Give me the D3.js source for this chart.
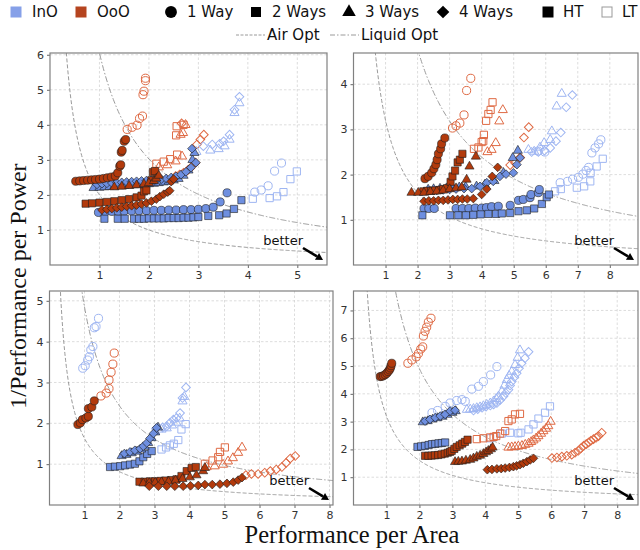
<!DOCTYPE html>
<html>
<head>
<meta charset="utf-8">
<script src="https://cdn.jsdelivr.net/npm/d3@7"></script>
<style>
  body { margin: 0; background: #fff; }
  svg { display: block; }
  .tick text { font-family: "DejaVu Sans", sans-serif; font-size: 11px; fill: #333; }
  .tick line { stroke: #666; }
</style>
</head>
<body>
<svg id="chart" width="640" height="550"></svg>
<script>
// ---- data ----
const panelNames = ['GA', 'DC', 'MMS', 'WSEA'];
const xMax = [5.6, 8.88, 8.1, 8.63];
const yMax = [6.05, 4.69, 5.24, 7.7];
const xTickValues = [[1, 2, 3, 4, 5], [1, 2, 3, 4, 5, 6, 7, 8], [1, 2, 3, 4, 5, 6, 7, 8], [1, 2, 3, 4, 5, 6, 7, 8]];
const yTickValues = [[1, 2, 3, 4, 5, 6], [1, 2, 3, 4], [1, 2, 3, 4, 5], [1, 2, 3, 4, 5, 6, 7]];
const airOptK = [2.0, 3.2, 1.63, 3.2];
const liquidOptK = [6.05, 9.55, 4.85, 9.8];

const cores = ['InO', 'OoO'];
const waysLabels = ['1 Way', '2 Ways', '3 Ways', '4 Ways'];
const threadLabels = ['HT', 'LT'];

// [core, ways, thread, [[perf/area, 1/perf per power], ...]]
const gaSeries = [
  ['OoO', 1, 'LT', [[1.56, 3.87], [1.66, 3.93], [1.76, 3.99], [1.81, 4.18], [1.87, 4.25], [1.88, 4.86], [1.9, 4.96], [1.93, 5.26], [1.93, 5.33]]],
  ['OoO', 2, 'LT', [[2.15, 2.89], [2.3, 2.95], [2.43, 3.02], [2.57, 3.15], [2.55, 3.7], [2.56, 3.96], [2.7, 4.0]]],
  ['OoO', 3, 'LT', [[2.2, 2.79], [2.37, 2.85], [2.54, 2.96], [2.67, 3.1], [2.64, 3.72], [2.69, 3.77], [2.74, 4.0]]],
  ['OoO', 4, 'LT', [[2.54, 2.54], [2.62, 2.58], [2.7, 2.63], [2.78, 2.7], [2.84, 2.77], [2.94, 2.92], [2.97, 3.44], [3.04, 3.58], [3.11, 3.72], [2.66, 4.04]]],
  ['InO', 1, 'LT', [[4.14, 2.08], [4.27, 2.14], [4.41, 2.26], [4.54, 2.68], [4.68, 2.91]]],
  ['InO', 2, 'LT', [[4.1, 1.89], [4.44, 1.91], [4.59, 1.96], [4.72, 2.08], [4.86, 2.45], [4.99, 2.67]]],
  ['InO', 3, 'LT', [[2.96, 3.23], [3.24, 3.27], [3.41, 3.31], [3.53, 3.39], [3.63, 3.58], [3.73, 4.34], [3.83, 4.62]]],
  ['InO', 4, 'LT', [[3.1, 3.39], [3.28, 3.44], [3.43, 3.46], [3.51, 3.53], [3.63, 3.72], [3.73, 4.43], [3.83, 4.8]]],
  ['InO', 1, 'HT', [[0.98, 1.5], [1.12, 1.52], [1.25, 1.53], [1.38, 1.53], [1.5, 1.54], [1.65, 1.54], [1.8, 1.55], [1.95, 1.55], [2.1, 1.56], [2.25, 1.56], [2.4, 1.57], [2.55, 1.57], [2.7, 1.58], [2.85, 1.58], [3.0, 1.59], [3.15, 1.61], [3.3, 1.65], [3.44, 1.8], [3.58, 2.06]]],
  ['InO', 2, 'HT', [[1.1, 1.32], [1.37, 1.32], [1.51, 1.32], [1.7, 1.32], [1.8, 1.32], [1.9, 1.32], [2.0, 1.33], [2.1, 1.33], [2.2, 1.33], [2.3, 1.33], [2.4, 1.34], [2.5, 1.34], [2.6, 1.34], [2.7, 1.35], [2.8, 1.35], [2.9, 1.36], [3.0, 1.37], [3.2, 1.4], [3.42, 1.42], [3.57, 1.47], [3.72, 1.6], [3.87, 1.85]]],
  ['InO', 3, 'HT', [[0.88, 2.2], [1.0, 2.21], [1.1, 2.22], [1.2, 2.23], [1.3, 2.24], [1.4, 2.25], [1.5, 2.26], [1.6, 2.27], [1.7, 2.28], [1.8, 2.29], [1.9, 2.3], [2.0, 2.31], [2.1, 2.32], [2.2, 2.34], [2.3, 2.36], [2.4, 2.38], [2.5, 2.42], [2.6, 2.46], [2.7, 2.55], [2.8, 2.7], [2.88, 3.0], [2.92, 3.2]]],
  ['InO', 4, 'HT', [[0.95, 2.3], [1.05, 2.32], [1.15, 2.33], [1.25, 2.34], [1.35, 2.35], [1.45, 2.36], [1.55, 2.37], [1.65, 2.38], [1.75, 2.39], [1.85, 2.4], [1.95, 2.41], [2.05, 2.42], [2.15, 2.43], [2.25, 2.45], [2.35, 2.47], [2.45, 2.5], [2.55, 2.53], [2.65, 2.58], [2.75, 2.66], [2.85, 2.78], [2.95, 2.92], [2.87, 3.32]]],
  ['OoO', 1, 'HT', [[0.52, 2.39], [0.6, 2.4], [0.68, 2.41], [0.76, 2.42], [0.84, 2.43], [0.92, 2.44], [1.0, 2.45], [1.08, 2.47], [1.16, 2.49], [1.24, 2.51], [1.32, 2.54], [1.37, 2.63], [1.41, 2.82], [1.43, 2.86], [1.44, 3.22], [1.46, 3.27], [1.5, 3.53], [1.53, 3.58]]],
  ['OoO', 2, 'HT', [[0.72, 1.75], [0.85, 1.76], [1.0, 1.78], [1.15, 1.8], [1.3, 1.82], [1.45, 1.85], [1.6, 1.88], [1.75, 1.93], [1.85, 1.98], [1.9, 2.1], [1.95, 2.13], [2.05, 2.42], [2.08, 2.65], [2.12, 2.68]]],
  ['OoO', 3, 'HT', [[1.3, 2.22], [1.45, 2.24], [1.6, 2.26], [1.75, 2.28], [1.9, 2.31], [2.0, 2.34], [2.1, 2.4], [2.15, 2.47], [2.2, 2.55]]],
  ['OoO', 4, 'HT', [[1.05, 1.57], [1.15, 1.59], [1.25, 1.61], [1.35, 1.63], [1.45, 1.65], [1.55, 1.67], [1.65, 1.69], [1.75, 1.71], [1.85, 1.74], [1.95, 1.77], [2.05, 1.82], [2.15, 1.88], [2.22, 1.95], [2.3, 2.02], [2.38, 2.08], [2.42, 2.12], [2.45, 2.38], [2.5, 2.45]]]
];

const dcSeries = [
  ['OoO', 1, 'LT', [[3.09, 3.03], [3.2, 3.08], [3.32, 3.14], [3.45, 3.32], [3.53, 3.86], [3.66, 4.13]]],
  ['OoO', 2, 'LT', [[3.76, 2.57], [3.9, 2.6], [4.0, 2.72], [4.05, 2.74], [4.07, 2.88], [4.14, 3.19], [4.21, 3.34], [4.28, 3.43], [4.34, 3.6]]],
  ['OoO', 3, 'LT', [[4.18, 2.5], [4.31, 2.55], [4.44, 2.7], [4.55, 3.18], [4.66, 3.43]]],
  ['OoO', 4, 'LT', [[4.89, 2.21], [5.04, 2.26], [5.2, 2.38], [5.32, 2.82], [5.47, 3.05]]],
  ['InO', 1, 'LT', [[6.45, 1.82], [6.68, 1.85], [6.84, 1.9], [7.02, 1.94], [7.16, 2.01], [7.26, 2.09], [7.34, 2.16], [7.44, 2.48], [7.54, 2.59], [7.65, 2.68], [7.72, 2.77], [5.76, 2.52], [5.97, 2.5]]],
  ['InO', 2, 'LT', [[6.29, 1.63], [6.47, 1.68], [6.97, 1.71], [7.2, 1.74], [7.39, 1.85], [7.4, 2.04], [7.59, 2.18], [7.78, 2.35]]],
  ['InO', 3, 'LT', [[5.46, 2.55], [5.64, 2.51], [5.82, 2.6], [5.95, 2.7], [6.14, 2.77], [6.19, 2.96], [6.34, 3.51], [6.5, 3.79]]],
  ['InO', 4, 'LT', [[5.56, 2.5], [5.77, 2.5], [5.96, 2.53], [6.14, 2.59], [6.32, 2.74], [6.47, 2.93], [6.64, 3.49], [6.83, 3.76]]],
  ['InO', 1, 'HT', [[2.2, 1.25], [2.35, 1.25], [2.52, 1.25], [3.2, 1.25], [3.4, 1.25], [3.6, 1.25], [3.8, 1.26], [4.0, 1.26], [4.15, 1.27], [4.31, 1.29], [4.52, 1.3], [4.89, 1.32], [5.15, 1.43], [5.3, 1.45], [5.51, 1.49], [5.54, 1.56], [5.77, 1.6], [5.8, 1.67]]],
  ['InO', 2, 'HT', [[2.15, 1.1], [3.01, 1.1], [3.27, 1.1], [3.51, 1.1], [3.74, 1.11], [3.97, 1.12], [4.21, 1.13], [4.45, 1.13], [4.63, 1.14], [4.89, 1.15], [5.15, 1.19], [5.41, 1.21], [5.64, 1.25], [5.88, 1.35], [6.03, 1.5], [6.1, 1.56]]],
  ['InO', 3, 'HT', [[2.33, 1.67], [2.5, 1.68], [2.7, 1.69], [2.9, 1.7], [3.1, 1.71], [3.3, 1.72], [3.5, 1.73], [3.84, 1.74], [4.1, 1.78], [4.4, 1.86], [4.68, 2.04], [4.97, 2.37], [5.13, 2.53]]],
  ['InO', 4, 'HT', [[2.6, 1.65], [2.8, 1.66], [3.0, 1.67], [3.2, 1.68], [3.45, 1.69], [3.69, 1.69], [3.95, 1.74], [4.16, 1.82], [4.36, 1.85], [4.57, 1.96], [4.76, 2.01], [4.99, 2.04], [5.1, 2.22], [5.2, 2.37]]],
  ['OoO', 1, 'HT', [[2.23, 1.91], [2.33, 1.96], [2.44, 2.04], [2.51, 2.13], [2.57, 2.22], [2.61, 2.33], [2.65, 2.46], [2.72, 2.57], [2.75, 2.68], [2.85, 2.81]]],
  ['OoO', 2, 'HT', [[2.18, 1.63], [2.3, 1.64], [2.42, 1.64], [2.55, 1.65], [2.68, 1.66], [2.8, 1.68], [2.92, 1.7], [3.03, 1.84], [3.09, 1.96], [3.17, 2.09], [3.25, 2.27], [3.32, 2.33], [3.4, 2.46]]],
  ['OoO', 3, 'HT', [[1.81, 1.6], [2.02, 1.6], [2.2, 1.6], [2.4, 1.62], [2.6, 1.63], [2.8, 1.65], [3.0, 1.68], [3.2, 1.7], [3.38, 1.72], [3.53, 1.89], [3.62, 2.18], [3.82, 2.4]]],
  ['OoO', 4, 'HT', [[2.2, 1.41], [2.35, 1.42], [2.5, 1.42], [2.65, 1.43], [2.8, 1.43], [2.95, 1.44], [3.1, 1.45], [3.25, 1.45], [3.4, 1.46], [3.55, 1.46], [3.74, 1.47], [4.0, 1.56], [4.16, 1.68], [4.33, 1.96], [4.5, 2.16]]]
];

const mmsSeries = [
  ['InO', 1, 'LT', [[0.95, 3.35], [1.02, 3.41], [1.09, 3.55], [1.14, 3.63], [1.18, 3.8], [1.24, 3.88], [1.28, 4.34], [1.33, 4.37], [1.4, 4.57]]],
  ['OoO', 1, 'LT', [[1.47, 2.67], [1.62, 2.74], [1.7, 2.85], [1.7, 3.06], [1.76, 3.25], [1.81, 3.45], [1.85, 3.72]]],
  ['InO', 2, 'LT', [[3.2, 1.36], [3.33, 1.41], [3.44, 1.46], [3.55, 1.5], [3.68, 1.59], [3.77, 1.85], [3.89, 1.98]]],
  ['InO', 3, 'LT', [[3.02, 1.8], [3.2, 1.85], [3.35, 1.88], [3.5, 1.95], [3.62, 2.02], [3.72, 2.12], [3.8, 2.54], [3.85, 2.65]]],
  ['InO', 4, 'LT', [[3.04, 1.87], [3.23, 1.9], [3.35, 1.93], [3.44, 2.01], [3.54, 2.09], [3.63, 2.13], [3.73, 2.25], [3.8, 2.62], [3.9, 2.88]]],
  ['OoO', 2, 'LT', [[4.44, 1.01], [4.66, 1.09], [4.82, 1.17], [4.87, 1.3], [5.01, 1.41]]],
  ['OoO', 3, 'LT', [[4.49, 0.93], [4.72, 0.95], [4.96, 0.99], [5.1, 1.07], [5.24, 1.15], [5.39, 1.28], [5.5, 1.41]]],
  ['OoO', 4, 'LT', [[5.61, 0.73], [5.77, 0.76], [5.96, 0.76], [6.15, 0.79], [6.31, 0.83], [6.48, 0.87], [6.64, 0.93], [6.76, 1.03], [6.88, 1.14], [7.02, 1.2]]],
  ['OoO', 1, 'HT', [[0.81, 1.97], [0.88, 2.01], [0.94, 2.09], [1.04, 2.13], [1.11, 2.17], [1.11, 2.36], [1.21, 2.4], [1.28, 2.55]]],
  ['InO', 2, 'HT', [[1.73, 0.93], [1.87, 0.94], [2.02, 0.95], [2.16, 0.97], [2.3, 0.99], [2.44, 1.01], [2.57, 1.07], [2.68, 1.17], [2.79, 1.25], [2.92, 1.32]]],
  ['InO', 3, 'HT', [[2.06, 1.2], [2.2, 1.23], [2.35, 1.27], [2.5, 1.31], [2.62, 1.36], [2.72, 1.43], [2.82, 1.52], [2.92, 1.64], [3.02, 1.78], [3.1, 1.9]]],
  ['InO', 4, 'HT', [[2.14, 1.26], [2.3, 1.3], [2.44, 1.34], [2.59, 1.38], [2.68, 1.44], [2.78, 1.52], [2.87, 1.63], [2.97, 1.75], [3.06, 1.89]]],
  ['OoO', 2, 'HT', [[2.57, 0.57], [2.72, 0.57], [2.87, 0.58], [3.02, 0.58], [3.17, 0.59], [3.32, 0.6], [3.47, 0.61], [3.63, 0.63], [3.77, 0.71], [3.92, 0.83], [4.06, 0.91], [4.18, 0.93]]],
  ['OoO', 3, 'HT', [[2.68, 0.53], [2.85, 0.54], [3.02, 0.55], [3.2, 0.56], [3.4, 0.57], [3.6, 0.6], [3.8, 0.64], [4.01, 0.68], [4.2, 0.73], [4.39, 0.83], [4.44, 0.91]]],
  ['OoO', 4, 'HT', [[2.85, 0.46], [3.11, 0.46], [3.35, 0.46], [3.58, 0.46], [3.82, 0.46], [4.03, 0.47], [4.25, 0.48], [4.44, 0.5], [4.65, 0.5], [4.87, 0.51], [5.07, 0.53], [5.25, 0.56], [5.39, 0.61], [5.5, 0.67]]]
];

const wseaSeries = [
  ['OoO', 1, 'LT', [[1.65, 5.1], [1.77, 5.22], [1.9, 5.33], [1.97, 5.45], [2.04, 5.61], [2.1, 5.69], [2.12, 6.08], [2.17, 6.25], [2.22, 6.4], [2.27, 6.58], [2.35, 6.72]]],
  ['InO', 1, 'LT', [[2.38, 3.32], [2.55, 3.4], [2.78, 3.55], [2.93, 3.67], [3.13, 3.76], [3.29, 3.79], [3.39, 3.73], [3.59, 4.17], [3.79, 4.27], [3.94, 4.44], [4.16, 4.68], [4.35, 4.98]]],
  ['InO', 3, 'LT', [[3.44, 3.43], [3.54, 3.44], [3.64, 3.46], [3.74, 3.49], [3.84, 3.52], [3.94, 3.56], [4.04, 3.61], [4.15, 3.66], [4.25, 3.73], [4.33, 3.82], [4.4, 3.91], [4.5, 4.09], [4.58, 4.3], [4.65, 4.5], [4.72, 4.65], [4.8, 4.8], [4.9, 5.04], [4.98, 5.3], [5.05, 5.57]]],
  ['InO', 4, 'LT', [[3.64, 3.4], [3.77, 3.45], [3.9, 3.5], [4.02, 3.54], [4.15, 3.58], [4.25, 3.62], [4.35, 3.67], [4.45, 3.78], [4.55, 3.91], [4.62, 4.03], [4.7, 4.15], [4.75, 4.3], [4.8, 4.44], [4.88, 4.6], [4.95, 4.74], [5.02, 4.92], [5.1, 5.1], [5.2, 5.28], [5.31, 5.51]]],
  ['InO', 2, 'LT', [[4.14, 2.4], [4.5, 2.57], [4.75, 2.6], [5.0, 2.58], [5.07, 2.6], [5.31, 2.72], [5.46, 2.9], [5.61, 3.11], [5.81, 3.32], [5.96, 3.55]]],
  ['OoO', 2, 'LT', [[3.74, 2.37], [3.94, 2.4], [4.14, 2.43], [4.25, 2.45], [4.33, 2.48], [4.45, 2.57], [4.6, 2.66], [4.7, 3.02], [4.8, 3.08], [4.9, 3.26], [5.05, 3.28]]],
  ['OoO', 3, 'LT', [[4.7, 2.07], [4.8, 2.08], [4.9, 2.09], [5.0, 2.11], [5.11, 2.13], [5.21, 2.17], [5.31, 2.21], [5.39, 2.27], [5.46, 2.33], [5.54, 2.4], [5.61, 2.48], [5.69, 2.57], [5.76, 2.66], [5.84, 2.75], [5.91, 2.84], [5.98, 3.0]]],
  ['OoO', 4, 'LT', [[6.02, 1.69], [6.17, 1.71], [6.32, 1.74], [6.47, 1.77], [6.62, 1.81], [6.72, 1.88], [6.82, 1.95], [6.9, 2.04], [6.98, 2.13], [7.06, 2.19], [7.13, 2.25], [7.2, 2.31], [7.28, 2.37], [7.36, 2.42], [7.43, 2.48], [7.53, 2.6]]],
  ['OoO', 1, 'HT', [[0.81, 4.62], [0.86, 4.63], [0.91, 4.65], [0.96, 4.69], [1.01, 4.74], [1.05, 4.8], [1.09, 4.86], [1.12, 4.93], [1.14, 5.01], [1.16, 5.1]]],
  ['InO', 2, 'HT', [[1.94, 2.09], [2.05, 2.11], [2.17, 2.13], [2.28, 2.16], [2.38, 2.19], [2.48, 2.2], [2.58, 2.22], [2.68, 2.23], [2.78, 2.25]]],
  ['InO', 3, 'HT', [[2.1, 2.98], [2.25, 3.02], [2.4, 3.08], [2.55, 3.13], [2.7, 3.18], [2.85, 3.25], [3.0, 3.32], [3.1, 3.38]]],
  ['InO', 4, 'HT', [[2.17, 3.02], [2.32, 3.08], [2.48, 3.14], [2.63, 3.2], [2.78, 3.26], [2.93, 3.38], [3.08, 3.41]]],
  ['OoO', 2, 'HT', [[2.17, 1.77], [2.27, 1.77], [2.37, 1.78], [2.47, 1.79], [2.57, 1.8], [2.67, 1.82], [2.77, 1.85], [2.86, 1.88], [2.93, 1.91], [2.98, 1.95], [3.06, 2.02], [3.13, 2.09], [3.22, 2.15], [3.3, 2.21], [3.38, 2.27], [3.46, 2.35]]],
  ['OoO', 3, 'HT', [[3.08, 1.55], [3.18, 1.56], [3.29, 1.57], [3.41, 1.6], [3.54, 1.63], [3.64, 1.68], [3.74, 1.74], [3.84, 1.78], [3.94, 1.84], [4.02, 1.9], [4.09, 1.95], [4.17, 2.01], [4.22, 2.07]]],
  ['OoO', 4, 'HT', [[4.06, 1.27], [4.2, 1.28], [4.35, 1.3], [4.48, 1.31], [4.6, 1.33], [4.73, 1.35], [4.85, 1.38], [4.95, 1.41], [5.05, 1.45], [5.15, 1.5], [5.26, 1.56], [5.36, 1.62], [5.46, 1.68]]]
];

const panelSeries = [gaSeries, dcSeries, mmsSeries, wseaSeries];

// ---- layout & style ----
const boxes = [
  {l: 50, t: 53, r: 327, b: 265},
  {l: 353.5, t: 53, r: 638, b: 265},
  {l: 49.5, t: 291, r: 333, b: 505},
  {l: 353.5, t: 291, r: 638, b: 505}
];
const coreStyle = {
  InO: {fill: '#6e8fe0', line: '#9fb6f2', legend: '#86a0e8'},
  OoO: {fill: '#b23a0c', line: '#df6a44', legend: '#b5441f'}
};
const symbolFor = {1: d3.symbolCircle, 2: d3.symbolSquare, 3: d3.symbolTriangle, 4: d3.symbolSquare};
const sizeFor = {1: 52, 2: 52, 3: 36, 4: 38};
const rotateFor = {1: 0, 2: 0, 3: 0, 4: 45};

const svg = d3.select('#chart');

panelNames.forEach((name, i) => drawPanel(i));

function drawPanel(i) {
  const box = boxes[i];
  const x = d3.scaleLinear().domain([0, xMax[i]]).range([box.l, box.r]);
  const y = d3.scaleLinear().domain([0, yMax[i]]).range([box.b, box.t]);
  const g = svg.append('g').attr('class', 'panel');

  // grid
  g.append('g').selectAll('line').data(xTickValues[i]).enter().append('line')
    .attr('x1', d => x(d)).attr('x2', d => x(d)).attr('y1', box.t).attr('y2', box.b)
    .attr('stroke', '#d4d4d4').attr('stroke-width', 0.8).attr('stroke-dasharray', '2.5,2');
  g.append('g').selectAll('line').data(yTickValues[i]).enter().append('line')
    .attr('y1', d => y(d)).attr('y2', d => y(d)).attr('x1', box.l).attr('x2', box.r)
    .attr('stroke', '#d4d4d4').attr('stroke-width', 0.8).attr('stroke-dasharray', '2.5,2');

  // axes
  const xAxis = d3.axisBottom(x).tickValues(xTickValues[i]).tickSize(3).tickPadding(3).tickFormat(d3.format('d'));
  g.append('g').attr('transform', `translate(0,${box.b})`).call(xAxis).call(a => a.select('.domain').remove());
  const yAxis = d3.axisLeft(y).tickValues(yTickValues[i]).tickSize(3).tickPadding(3).tickFormat(d3.format('d'));
  g.append('g').attr('transform', `translate(${box.l},0)`).call(yAxis).call(a => a.select('.domain').remove());

  // clip for curves and points
  const clipId = 'clip' + i;
  g.append('clipPath').attr('id', clipId).append('rect')
    .attr('x', box.l).attr('y', box.t).attr('width', box.r - box.l).attr('height', box.b - box.t);
  const inner = g.append('g').attr('clip-path', `url(#${clipId})`);

  // optimum curves
  const xs = d3.range(0.2, xMax[i] + 0.05, 0.02);
  const curve = k => d3.line().x(d => x(d)).y(d => y(k / d))(xs);
  inner.append('path').attr('d', curve(airOptK[i]))
    .attr('fill', 'none').attr('stroke', '#9a9a9a').attr('stroke-width', 1).attr('stroke-dasharray', '4,2');
  inner.append('path').attr('d', curve(liquidOptK[i]))
    .attr('fill', 'none').attr('stroke', '#9a9a9a').attr('stroke-width', 1).attr('stroke-dasharray', '6,2,1.5,2');

  // points
  panelSeries[i].forEach(([core, ways, thread, pts]) => {
    const sym = d3.symbol().type(symbolFor[ways]).size(sizeFor[ways]);
    const hollow = thread === 'LT';
    inner.append('g').selectAll('path').data(pts).enter().append('path')
      .attr('d', sym)
      .attr('transform', d => `translate(${x(d[0])},${y(d[1])}) rotate(${rotateFor[ways]})`)
      .attr('fill', hollow ? 'none' : coreStyle[core].fill)
      .attr('stroke', hollow ? coreStyle[core].line : '#1e1e1e')
      .attr('stroke-width', hollow ? 1 : 0.6);
  });

  // frame
  g.append('rect').attr('x', box.l).attr('y', box.t).attr('width', box.r - box.l).attr('height', box.b - box.t)
    .attr('fill', 'none').attr('stroke', '#808080').attr('stroke-width', 1.2);

  // title
  g.append('text').attr('x', box.r - 6).attr('y', box.t + 22).attr('text-anchor', 'end')
    .attr('font-family', 'DejaVu Sans, sans-serif').attr('font-size', 16.5).attr('fill', '#111').text(name);

  // "better" annotation
  g.append('text').attr('x', box.r - 24).attr('y', box.b - 20).attr('text-anchor', 'end')
    .attr('font-family', 'DejaVu Sans, sans-serif').attr('font-size', 13).attr('fill', '#111').text('better');
  const x0 = box.r - 24, y0 = box.b - 17, x1 = box.r - 4, y1 = box.b - 5;
  const ang = Math.atan2(y1 - y0, x1 - x0);
  const hx = x1 - 7 * Math.cos(ang), hy = y1 - 7 * Math.sin(ang);
  g.append('line').attr('x1', x0).attr('y1', y0).attr('x2', hx).attr('y2', hy)
    .attr('stroke', '#000').attr('stroke-width', 2.6);
  const px = -Math.sin(ang) * 4, py = Math.cos(ang) * 4;
  g.append('path').attr('d', `M${x1},${y1}L${hx + px},${hy + py}L${hx - px},${hy - py}Z`).attr('fill', '#000');
}

// ---- axis titles ----
svg.append('text').attr('x', 352).attr('y', 543).attr('text-anchor', 'middle')
  .attr('font-family', 'Liberation Serif, serif').attr('font-size', 24.5).attr('fill', '#111')
  .text('Performance per Area');
svg.append('text').attr('transform', 'translate(26,286) rotate(-90)').attr('text-anchor', 'middle')
  .attr('font-family', 'Liberation Serif, serif').attr('font-size', 24).attr('fill', '#111')
  .text('1/Performance per Power');

// ---- legend ----
const legend = svg.append('g').attr('font-family', 'DejaVu Sans, sans-serif').attr('font-size', 15).attr('fill', '#111');
const row1 = 12, row2 = 35;
const legendText = (tx, ty, label) => legend.append('text').attr('x', tx).attr('y', ty)
  .attr('dominant-baseline', 'central').text(label);

const coreLegendX = [16, 81];
cores.forEach((c, k) => {
  legend.append('rect').attr('x', coreLegendX[k] - 5.5).attr('y', row1 - 5.5).attr('width', 11).attr('height', 11)
    .attr('fill', coreStyle[c].legend);
  legendText(coreLegendX[k] + 16, row1, c);
});

const waysLegendX = [171, 256, 349, 443];
const waysLegendSize = {1: 110, 2: 100, 3: 80, 4: 80};
waysLabels.forEach((w, k) => {
  const ways = k + 1;
  legend.append('path').attr('d', d3.symbol().type(symbolFor[ways]).size(waysLegendSize[ways])())
    .attr('transform', `translate(${waysLegendX[k]},${row1}) rotate(${rotateFor[ways]})`).attr('fill', '#000');
  legendText(waysLegendX[k] + 16, row1, w);
});

const threadLegendX = [548, 607];
threadLabels.forEach((t, k) => {
  legend.append('rect').attr('x', threadLegendX[k] - 5).attr('y', row1 - 5).attr('width', 10).attr('height', 10)
    .attr('fill', t === 'HT' ? '#000' : '#fff').attr('stroke', t === 'HT' ? '#000' : '#999').attr('stroke-width', 1);
  legendText(threadLegendX[k] + 15, row1, t);
});

legend.append('line').attr('x1', 236).attr('x2', 265).attr('y1', row2).attr('y2', row2)
  .attr('stroke', '#9a9a9a').attr('stroke-dasharray', '3,1.5');
legendText(267, row2, 'Air Opt');
legend.append('line').attr('x1', 330).attr('x2', 359).attr('y1', row2).attr('y2', row2)
  .attr('stroke', '#9a9a9a').attr('stroke-dasharray', '5,2,1.5,2');
legendText(361, row2, 'Liquid Opt');
</script>
</body>
</html>
